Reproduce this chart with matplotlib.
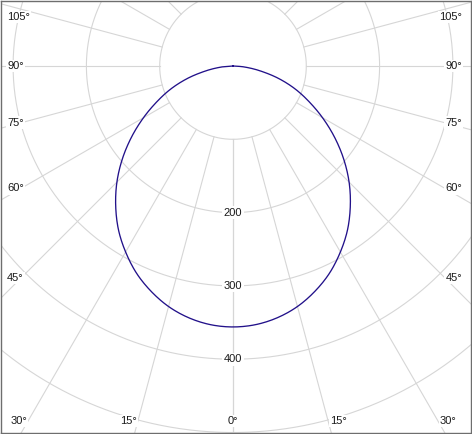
import numpy as np
import matplotlib.pyplot as plt

# luminous intensity (cd) against angle from nadir
angles = [0, 5, 10, 15, 20, 25, 30, 35, 40, 45, 50, 55, 60, 65, 70, 75, 80, 85, 90]
intensity = [356, 354.2, 348.7, 339.7, 327, 311.7, 293, 272.5, 249, 224, 197, 169, 141, 114, 89, 63, 37, 16, 0]

grid_radii = [100, 200, 300, 400, 500]
radius_labels = [200, 300, 400]
spoke_angles = [0, 15, 30, 45, 60, 75, 90, 105, 120, 135, 150, 165, 180]
side_label_angles = [45, 60, 75, 90, 105]
bottom_label_angles = [0, 15, 30]

k = 100 / 73.3          # cd per pixel
cx, cy = 233, 66        # pixel position of the centre


def to_data(px, py):
    return (px - cx) * k, (cy - py) * k


def smooth(xs, ys, n=16):
    # catmull-rom through the points, only for drawing
    p = np.column_stack([xs, ys])
    p = np.vstack([p[0], p, p[-1]])
    out = []
    s = np.linspace(0, 1, n, endpoint=False)[:, None]
    for i in range(1, len(p) - 2):
        p0, p1, p2, p3 = p[i - 1], p[i], p[i + 1], p[i + 2]
        out.append(0.5 * (2 * p1 + (p2 - p0) * s
                          + (2 * p0 - 5 * p1 + 4 * p2 - p3) * s ** 2
                          + (3 * p1 - p0 - 3 * p2 + p3) * s ** 3))
    out.append(p[-2][None, :])
    out = np.vstack(out)
    return out[:, 0], out[:, 1]


fig = plt.figure(figsize=(4.72, 4.34), dpi=100)
ax = fig.add_axes([0.5 / 472, 1.5 / 434, 470 / 472, 432 / 434])
x0, y1 = to_data(0.5, 0.5)
x1, y0 = to_data(470.5, 432.5)
ax.set_xlim(x0, x1)
ax.set_ylim(y0, y1)
ax.set_xticks([])
ax.set_yticks([])
for s in ax.spines.values():
    s.set_color('#6e6e6e')
    s.set_linewidth(1)

grid_col = '#d6d6d6'
t = np.linspace(0, 2 * np.pi, 720)
for r in grid_radii:
    ax.plot(r * np.sin(t), r * np.cos(t), color=grid_col, lw=0.8, zorder=1)

for a in spoke_angles:
    ar = np.radians(a)
    for sgn in (-1, 1):
        ax.plot([sgn * 100 * np.sin(ar), sgn * 900 * np.sin(ar)],
                [-100 * np.cos(ar), -900 * np.cos(ar)],
                color=grid_col, lw=0.8, zorder=1)

# curve, mirrored on both sides
th = np.radians(np.concatenate([-np.array(angles[::-1]), np.array(angles[1:])]))
rr = np.concatenate([np.array(intensity[::-1]), np.array(intensity[1:])])
sx, sy = smooth(rr * np.sin(th), -rr * np.cos(th))
ax.plot(sx, sy, color='#22118a', lw=0.95, zorder=4)

font = dict(family='Liberation Sans', size=8, color='#1a1a1a')
box = dict(facecolor='white', edgecolor='none', pad=1)

for r in radius_labels:
    ax.text(0, -r, str(r), ha='center', va='center', bbox=box, zorder=3, **font)

for a in side_label_angles:
    dy = 212 / np.tan(np.radians(a)) if a != 90 else 0
    py = max(cy + dy, 17)
    xl, yy = to_data(7, py)
    xr, _ = to_data(462, py)
    ax.text(xl, yy, f'{a}°', ha='left', va='center', bbox=box, zorder=3, **font)
    ax.text(xr, yy, f'{a}°', ha='right', va='center', bbox=box, zorder=3, **font)

for a in bottom_label_angles:
    dx = 355 * np.tan(np.radians(a))
    if a == 0:
        xx, yy = to_data(cx, 421)
        ax.text(xx, yy, '0°', ha='center', va='center', bbox=box, zorder=3, **font)
        continue
    xl, yy = to_data(cx - dx - 1, 421)
    xr, _ = to_data(cx + dx + 2, 421)
    ax.text(xl, yy, f'{a}°', ha='right', va='center', bbox=box, zorder=3, **font)
    ax.text(xr, yy, f'{a}°', ha='left', va='center', bbox=box, zorder=3, **font)

fig.savefig('out.png', dpi=100)
